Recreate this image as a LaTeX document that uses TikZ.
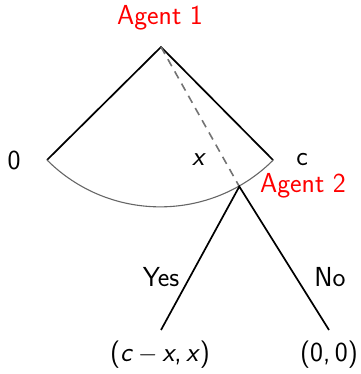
\documentclass[tikz,border=0pt]{standalone}
\usepackage{fontspec}
\usetikzlibrary{calc}
\begin{document}
\begin{tikzpicture}[x=1pt,y=1pt,
  lbl/.style={font=\fontsize{27.5}{32}\selectfont\sffamily, inner sep=0pt},
  agent/.style={lbl, text=red},
  branch/.style={line width=1.7pt, black},
  info/.style={line width=1.1pt, gray!80!black}]
\useasboundingbox (0,0) rectangle (360,374);
\coordinate (apex) at (161,327);
\coordinate (left) at (47,214);
\coordinate (right) at (273,214);
\coordinate (a2) at ($(apex)+(-60.7:160)$);
\coordinate (yesend) at (161,44);
\coordinate (noend) at (329,44);
\node[agent] (ag1) at (160,356) {Agent 1};
\node[agent] (ag2) at (303,188) {Agent 2};
\node[lbl] (zero) at (14,214) {0};
\node[lbl] (cl) at (302,214) {c};
\node[lbl] (xl) at (199,214) {\textit{x}};
\node[lbl] (yes) at (161,97) {Yes};
\node[lbl] (no) at (330,97) {No};
\node[lbl] (pay1) at (160,19) {(\textit{c}\kern5pt$-$\kern5pt\textit{x},\,\textit{x})};
\node[lbl] (pay2) at (329,19) {(0,\,0)};
\draw[branch] (left) -- (apex) -- (right);
\draw[info] (left) arc[start angle=-135, end angle=-45, radius=160];
\draw[info, gray!90!black, dash pattern=on 8pt off 6pt, line width=1.6pt] (apex) -- (a2);
\draw[branch] (yesend) -- (a2) -- (noend);
\end{tikzpicture}
\end{document}
